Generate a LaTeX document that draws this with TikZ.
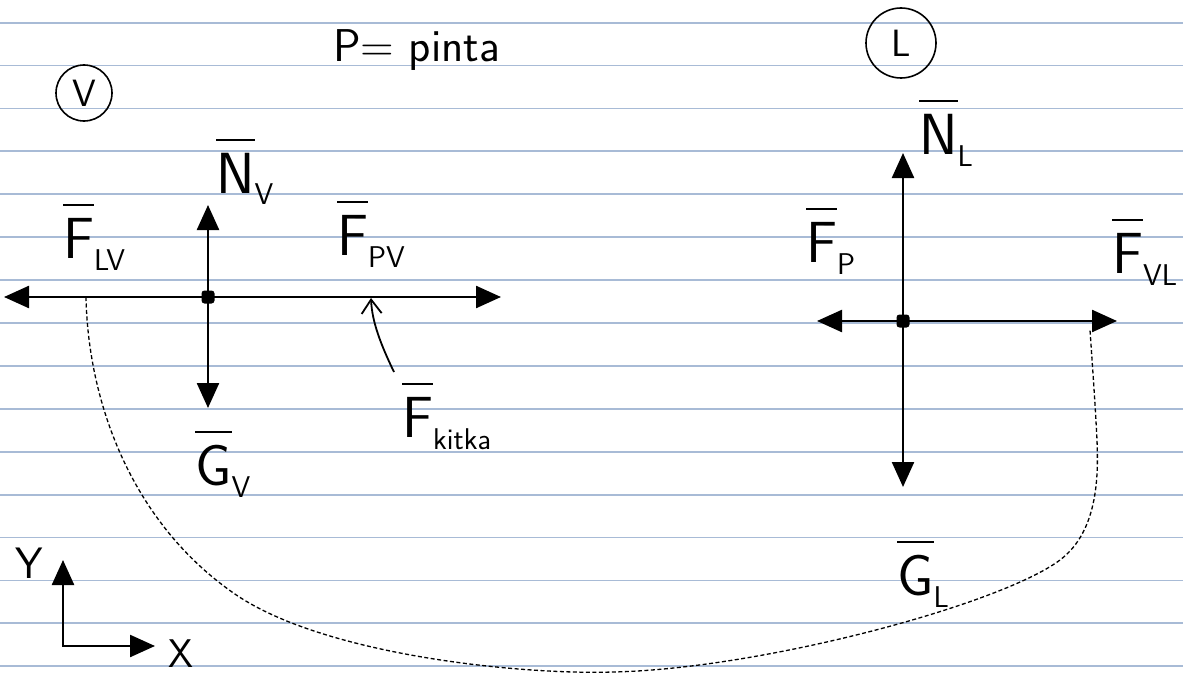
\documentclass[tikz,border=0pt]{standalone}
\usepackage{fontspec}
\usepackage{tikz}
\usetikzlibrary{positioning,calc,arrows.meta}
\definecolor{paper}{HTML}{A8BBD6}
\newcommand\vek[1]{\setbox0\hbox{#1}\rlap{\raisebox{\dimexpr\ht0+12pt\relax}{\rule{\wd0}{1.6pt}}}\box0}
\newcommand\idx[1]{\raisebox{-12pt}{\fontsize{30}{30}\selectfont #1}}

\begin{document}
\begin{tikzpicture}[x=1pt, y=-1pt, font=\sffamily\fontsize{58}{60}\selectfont,
  >={Triangle[length=25pt,width=22pt]},
  force/.style={->, line width=2.4pt},
  dot/.style={fill, rectangle, rounded corners=3pt, minimum size=13pt, inner sep=0pt},
  lbl/.style={anchor=base west, inner sep=0pt},
  body/.style={draw, circle, line width=1.6pt, inner sep=0pt},
  pair/.style={line width=1.3pt, dash pattern=on 4pt off 2.5pt},
  point/.style={-{Straight Barb[length=14pt,width=20pt]}, line width=1.8pt}]
  \useasboundingbox (0,0) rectangle (1183,674);
  % lined paper
  \foreach \k in {0,...,15}
    \draw[paper, line width=1.8pt] (0,{22.7+42.9*\k}) -- (1183,{22.7+42.9*\k});

  \node[lbl] (title) at (333,62) {\fontsize{46}{46}\selectfont P= pinta};
  \node[body, minimum size=56pt] (bodyV) at (84,93) {\fontsize{38}{38}\selectfont V};
  \node[body, minimum size=70pt] (bodyL) at (901,43) {\fontsize{38}{38}\selectfont L};

  % body V
  \node[dot] (dotV) at (208,297) {};
  \coordinate (vL) at (4,297);
  \coordinate (vR) at (501,297);
  \coordinate (vU) at (208,205);
  \coordinate (vD) at (208,408);
  \draw[force] (dotV.center) -- (vL);
  \draw[force] (dotV.center) -- (vR);
  \draw[force] (dotV.center) -- (vU);
  \draw[force] (dotV.center) -- (vD);
  \node[lbl] (Nv)  at (216,193) {\vek{N}\idx{V}};
  \node[lbl] (Flv) at (63,258)  {\vek{F}\idx{LV}};
  \node[lbl] (Fpv) at (337,255) {\vek{F}\idx{PV}};
  \node[lbl] (Gv)  at (195,485) {\vek{G}\idx{V}};
  \node[lbl] (Fk)  at (402,437) {\vek{F}\idx{kitka}};
  \coordinate (kTip) at (371,298);
  \coordinate (kTail) at (394,372);
  \draw[point] (kTail) .. controls (381,345) and (372,322) .. (kTip);

  % body L
  \node[dot] (dotL) at (903,321) {};
  \coordinate (lL) at (817,321);
  \coordinate (lR) at (1117,321);
  \coordinate (lU) at (903,153);
  \coordinate (lD) at (903,487);
  \draw[force] (dotL.center) -- (lL);
  \draw[force] (dotL.center) -- (lR);
  \draw[force] (dotL.center) -- (lU);
  \draw[force] (dotL.center) -- (lD);
  \node[lbl] (Nl)  at (919,154)  {\vek{N}\idx{L}};
  \node[lbl] (Fp)  at (806,262)  {\vek{F}\idx{P}};
  \node[lbl] (Fvl) at (1112,273) {\vek{F}\idx{VL}};
  \node[lbl] (Gl)  at (897,595)  {\vek{G}\idx{L}};

  % action - reaction
  \coordinate (cL) at (86,297);
  \coordinate (cR) at (1090,330);
  \draw[pair] (cL) .. controls (88,400) and (130,520) .. (232,592)
    .. controls (320,655) and (520,675) .. (613,672)
    .. controls (760,669) and (1000,605) .. (1060,560)
    .. controls (1100,530) and (1098,470) .. (1097,440)
    .. controls (1095,400) and (1092,360) .. (cR);

  % axes
  \coordinate (o) at (63,646);
  \coordinate (ax) at (155,646);
  \coordinate (ay) at (63,560);
  \draw[force, <->] (ay) -- (o) -- (ax);
  \node[lbl] (ylab) at (15,578) {\fontsize{44}{44}\selectfont Y};
  \node[lbl] (xlab) at (168,667) {\fontsize{40}{40}\selectfont X};
\end{tikzpicture}
\end{document}
